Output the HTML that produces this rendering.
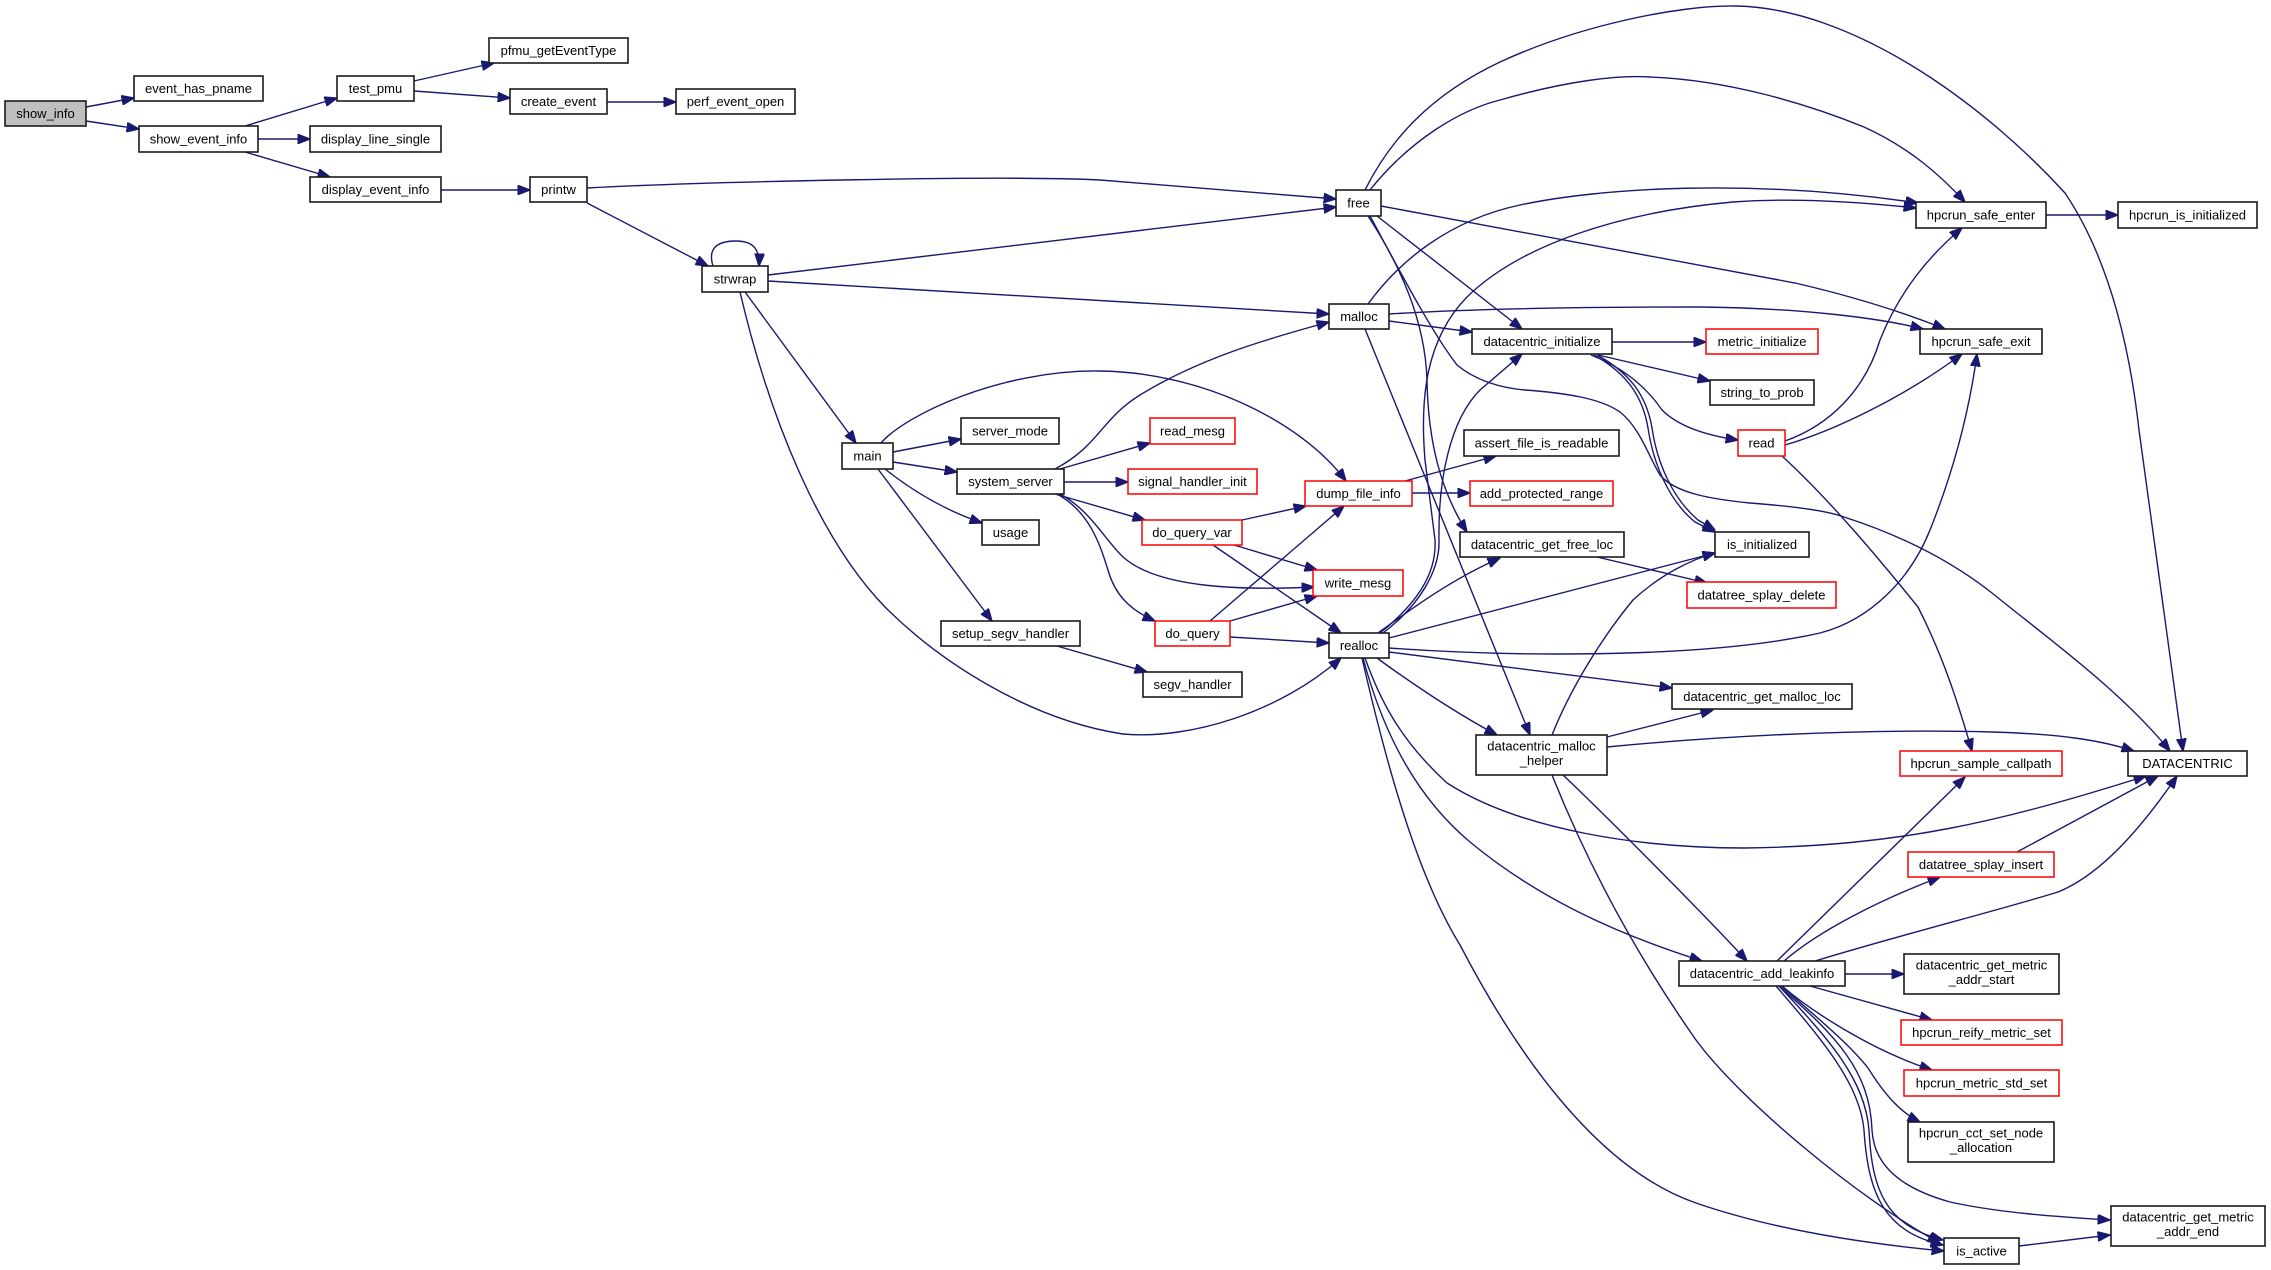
<!DOCTYPE html>
<html><head><meta charset="utf-8"><style>
html,body{margin:0;padding:0;background:#fff;}
svg{display:block;}
text{font-family:"Liberation Sans",Arial,sans-serif;font-size:13px;fill:#000;text-anchor:middle;}
.e{fill:none;stroke:#191970;stroke-width:1.4;marker-end:url(#a);}
.n{fill:#fff;stroke:#1a1a1a;stroke-width:1.6;}
.r{fill:#fff;stroke:#ff0000;stroke-width:1.5;}
</style></head><body>
<svg width="2271" height="1270" viewBox="0 0 2271 1270" xmlns="http://www.w3.org/2000/svg">
<defs><marker id="a" markerWidth="13" markerHeight="10" refX="12.5" refY="5" orient="auto" markerUnits="userSpaceOnUse"><path d="M0,0 L13,5 L0,10 z" fill="#191970" stroke="#191970" stroke-width="1"/></marker></defs>
<g>
<path class="e" d="M86,107 L134,98"/>
<path class="e" d="M86,121 L139,129"/>
<path class="e" d="M245,126 L337,98"/>
<path class="e" d="M258,139 L310,139"/>
<path class="e" d="M245,152 L330,177"/>
<path class="e" d="M414,81 L494,63"/>
<path class="e" d="M414,91 L510,98"/>
<path class="e" d="M607,102 L676,102"/>
<path class="e" d="M441,190 L530,190"/>
<path class="e" d="M587,188 C700,182 1000,175 1100,180 L1336,199"/>
<path class="e" d="M587,203 L708,266"/>
<path class="e" d="M713,266 C708,250 715,241 736,241 C752,241 760,248 759,266"/>
<path class="e" d="M768,275 L1336,207"/>
<path class="e" d="M768,281 L1329,314"/>
<path class="e" d="M745,292 L856,443"/>
<path class="e" d="M740,292 C770,420 820,540 885,607 C940,662 1030,720 1123,734 C1190,740 1280,712 1341,658"/>
<path class="e" d="M893,452 L961,439"/>
<path class="e" d="M893,462 L957,472"/>
<path class="e" d="M885,469 Q930,505 982,523"/>
<path class="e" d="M878,469 L992,621"/>
<path class="e" d="M881,443 C905,415 1000,370 1099,371 C1200,372 1300,420 1346,481"/>
<path class="e" d="M1055,469 C1100,445 1100,420 1140,395 C1200,358 1270,338 1329,322"/>
<path class="e" d="M1060,469 L1150,443"/>
<path class="e" d="M1064,482 L1128,482"/>
<path class="e" d="M1055,494 L1145,520"/>
<path class="e" d="M1060,494 C1090,510 1105,540 1123,557 C1160,590 1250,590 1314,587"/>
<path class="e" d="M1057,494 C1090,512 1100,545 1108,570 C1115,595 1130,610 1155,621"/>
<path class="e" d="M1242,520 L1306,506"/>
<path class="e" d="M1234,545 L1317,570"/>
<path class="e" d="M1213,545 L1341,633"/>
<path class="e" d="M1210,621 L1344,506"/>
<path class="e" d="M1230,621 L1317,596"/>
<path class="e" d="M1230,637 L1329,643"/>
<path class="e" d="M1057,646 L1147,672"/>
<path class="e" d="M1370,190 C1410,140 1460,110 1500,100 C1570,80 1620,75 1650,77 C1730,80 1810,105 1864,127 C1910,148 1940,175 1965,202"/>
<path class="e" d="M1365,190 C1390,140 1430,95 1500,62 C1580,25 1680,5 1736,6 C1850,8 1980,100 2065,193 C2110,260 2130,350 2139,430 L2183,751"/>
<path class="e" d="M1381,206 L1795,283 C1860,298 1910,315 1945,329"/>
<path class="e" d="M1377,216 L1522,329"/>
<path class="e" d="M1368,216 C1400,265 1425,320 1427,380 C1428,440 1440,490 1467,532"/>
<path class="e" d="M1370,216 C1395,262 1430,330 1457,365 C1475,380 1500,388 1525,390 C1565,393 1600,398 1620,412 C1640,428 1648,455 1660,475 C1675,493 1710,499 1750,503 C1790,506 1825,510 1844,517 C1900,535 1950,560 1992,593 C2050,640 2120,690 2170,751"/>
<path class="e" d="M1594,355 C1628,374 1643,398 1648,428 C1653,462 1668,500 1695,522 L1715,532"/>
<path class="e" d="M1597,355 C1632,374 1647,398 1652,428 C1657,462 1672,498 1698,520 L1715,530"/>
<path class="e" d="M1368,304 C1400,260 1450,220 1520,205 C1600,188 1750,178 1918,203"/>
<path class="e" d="M1380,633 C1415,605 1437,575 1435,540 L1425,460 C1420,400 1425,340 1467,297 C1520,245 1620,212 1733,202 C1800,197 1870,203 1916,208"/>
<path class="e" d="M1383,633 C1420,605 1440,570 1439,540 C1438,480 1450,420 1480,390 L1522,354"/>
<path class="e" d="M1378,633 C1410,610 1450,580 1500,558"/>
<path class="e" d="M1389,638 L1715,553"/>
<path class="e" d="M1389,648 C1500,656 1700,660 1820,633 C1870,620 1910,580 1930,530 C1950,480 1968,420 1977,354"/>
<path class="e" d="M1389,652 L1672,688"/>
<path class="e" d="M1377,658 C1400,675 1450,710 1497,735"/>
<path class="e" d="M1365,658 C1380,700 1400,740 1447,783 C1520,830 1640,848 1744,848 C1900,846 2000,822 2146,776"/>
<path class="e" d="M1363,658 C1385,740 1420,800 1470,842 C1540,900 1620,935 1702,961"/>
<path class="e" d="M1362,658 C1390,780 1420,880 1460,945 C1520,1060 1600,1170 1696,1203 C1780,1232 1880,1245 1944,1251"/>
<path class="e" d="M1365,329 L1530,735"/>
<path class="e" d="M1607,737 L1713,710"/>
<path class="e" d="M1607,747 C1700,738 1850,728 1992,732 C2060,734 2100,740 2134,751"/>
<path class="e" d="M1552,735 C1570,690 1600,640 1633,600 C1660,575 1690,560 1715,553"/>
<path class="e" d="M1563,775 C1600,810 1700,910 1747,961"/>
<path class="e" d="M1552,775 C1590,870 1640,960 1696,1040 C1740,1100 1860,1200 1940,1243"/>
<path class="e" d="M1612,342 L1706,342"/>
<path class="e" d="M1598,355 L1710,381"/>
<path class="e" d="M1591,355 C1620,366 1645,385 1662,410 C1680,428 1710,436 1738,440"/>
<path class="e" d="M1597,557 L1707,583"/>
<path class="e" d="M1405,481 L1496,456"/>
<path class="e" d="M1412,493 L1470,493"/>
<path class="e" d="M1389,321 L1472,332"/>
<path class="e" d="M1389,314 C1450,310 1550,307 1700,307 C1800,308 1880,318 1923,329"/>
<path class="e" d="M1785,441 C1830,425 1865,390 1880,340 C1900,290 1930,255 1962,228"/>
<path class="e" d="M1785,445 C1830,432 1900,400 1962,354"/>
<path class="e" d="M1782,456 C1830,500 1880,560 1918,607 C1945,660 1960,710 1972,751"/>
<path class="e" d="M2046,215 L2118,215"/>
<path class="e" d="M1777,961 L1965,777"/>
<path class="e" d="M1784,961 C1820,930 1880,900 1940,877"/>
<path class="e" d="M1815,961 C1900,935 2000,910 2058,892 C2100,875 2140,830 2177,776"/>
<path class="e" d="M2017,852 L2158,776"/>
<path class="e" d="M1845,974 L1904,974"/>
<path class="e" d="M1810,986 L1932,1020"/>
<path class="e" d="M1782,986 C1810,1010 1870,1050 1932,1070"/>
<path class="e" d="M1781,986 C1820,1020 1850,1045 1868,1068 C1885,1095 1900,1112 1920,1122"/>
<path class="e" d="M1780,987 C1835,1035 1870,1070 1872,1130 C1874,1165 1900,1188 1950,1202 C2000,1213 2060,1217 2110,1220"/>
<path class="e" d="M1779,986 C1830,1040 1865,1080 1869,1130 C1872,1190 1885,1225 1943,1240"/>
<path class="e" d="M1776,986 C1825,1043 1860,1085 1864,1130 C1868,1195 1885,1232 1943,1245"/>
<path class="e" d="M2019,1246 L2110,1235"/>
</g>
<g>
<rect x="5" y="101" width="81" height="25" fill="#bfbfbf" stroke="#1a1a1a" stroke-width="1.6"/><text x="45.5" y="118">show_info</text>
<rect class="n" x="134" y="76" width="129" height="25"/><text x="198.5" y="93">event_has_pname</text>
<rect class="n" x="139" y="126" width="119" height="26"/><text x="198.5" y="143.5">show_event_info</text>
<rect class="n" x="337" y="76" width="77" height="25"/><text x="375.5" y="93">test_pmu</text>
<rect class="n" x="489" y="38" width="139" height="25"/><text x="558.5" y="55">pfmu_getEventType</text>
<rect class="n" x="510" y="89" width="97" height="25"/><text x="558.5" y="106">create_event</text>
<rect class="n" x="676" y="89" width="119" height="25"/><text x="735.5" y="106">perf_event_open</text>
<rect class="n" x="310" y="126" width="131" height="26"/><text x="375.5" y="143.5">display_line_single</text>
<rect class="n" x="310" y="177" width="131" height="25"/><text x="375.5" y="194">display_event_info</text>
<rect class="n" x="530" y="177" width="57" height="25"/><text x="558.5" y="194">printw</text>
<rect class="n" x="702" y="266" width="66" height="26"/><text x="735" y="283.5">strwrap</text>
<rect class="n" x="1336" y="190" width="45" height="26"/><text x="1358.5" y="207.5">free</text>
<rect class="n" x="1329" y="304" width="60" height="25"/><text x="1359" y="321">malloc</text>
<rect class="n" x="1472" y="329" width="140" height="25"/><text x="1542" y="346">datacentric_initialize</text>
<rect class="r" x="1706" y="329" width="112" height="25"/><text x="1762" y="346">metric_initialize</text>
<rect class="n" x="1710" y="380" width="104" height="25"/><text x="1762" y="397">string_to_prob</text>
<rect class="n" x="1916" y="202" width="130" height="26"/><text x="1981" y="219.5">hpcrun_safe_enter</text>
<rect class="n" x="2118" y="202" width="139" height="26"/><text x="2187.5" y="219.5">hpcrun_is_initialized</text>
<rect class="n" x="1920" y="329" width="122" height="25"/><text x="1981" y="346">hpcrun_safe_exit</text>
<rect class="r" x="1738" y="430" width="47" height="26"/><text x="1761.5" y="447.5">read</text>
<rect class="n" x="1464" y="430" width="155" height="26"/><text x="1541.5" y="447.5">assert_file_is_readable</text>
<rect class="r" x="1470" y="481" width="143" height="25"/><text x="1541.5" y="498">add_protected_range</text>
<rect class="r" x="1305" y="481" width="107" height="25"/><text x="1358.5" y="498">dump_file_info</text>
<rect class="n" x="1460" y="532" width="164" height="25"/><text x="1542" y="549">datacentric_get_free_loc</text>
<rect class="n" x="1715" y="532" width="94" height="25"/><text x="1762" y="549">is_initialized</text>
<rect class="r" x="1687" y="582" width="149" height="26"/><text x="1761.5" y="599.5">datatree_splay_delete</text>
<rect class="n" x="842" y="443" width="51" height="26"/><text x="867.5" y="460.5">main</text>
<rect class="n" x="961" y="418" width="98" height="26"/><text x="1010" y="435.5">server_mode</text>
<rect class="r" x="1150" y="418" width="85" height="26"/><text x="1192.5" y="435.5">read_mesg</text>
<rect class="n" x="957" y="469" width="107" height="25"/><text x="1010.5" y="486">system_server</text>
<rect class="r" x="1128" y="469" width="129" height="25"/><text x="1192.5" y="486">signal_handler_init</text>
<rect class="n" x="982" y="520" width="57" height="25"/><text x="1010.5" y="537">usage</text>
<rect class="r" x="1142" y="520" width="100" height="25"/><text x="1192" y="537">do_query_var</text>
<rect class="r" x="1313" y="570" width="90" height="26"/><text x="1358" y="587.5">write_mesg</text>
<rect class="n" x="941" y="621" width="139" height="25"/><text x="1010.5" y="638">setup_segv_handler</text>
<rect class="r" x="1155" y="621" width="75" height="25"/><text x="1192.5" y="638">do_query</text>
<rect class="n" x="1329" y="633" width="60" height="25"/><text x="1359" y="650">realloc</text>
<rect class="n" x="1143" y="672" width="99" height="25"/><text x="1192.5" y="689">segv_handler</text>
<rect class="n" x="1672" y="684" width="180" height="25"/><text x="1762" y="701">datacentric_get_malloc_loc</text>
<rect class="n" x="1476" y="735" width="131" height="40"/><text x="1541.5" y="750.5">datacentric_malloc</text><text x="1541.5" y="765">_helper</text>
<rect class="r" x="1900" y="751" width="162" height="25"/><text x="1981" y="768">hpcrun_sample_callpath</text>
<rect class="n" x="2128" y="751" width="119" height="25"/><text x="2187.5" y="768">DATACENTRIC</text>
<rect class="r" x="1908" y="852" width="146" height="25"/><text x="1981" y="869">datatree_splay_insert</text>
<rect class="n" x="1679" y="961" width="166" height="25"/><text x="1762" y="978">datacentric_add_leakinfo</text>
<rect class="n" x="1904" y="954" width="155" height="40"/><text x="1981.5" y="969.5">datacentric_get_metric</text><text x="1981.5" y="984">_addr_start</text>
<rect class="r" x="1901" y="1020" width="161" height="25"/><text x="1981.5" y="1037">hpcrun_reify_metric_set</text>
<rect class="r" x="1904" y="1070" width="155" height="26"/><text x="1981.5" y="1087.5">hpcrun_metric_std_set</text>
<rect class="n" x="1908" y="1122" width="146" height="40"/><text x="1981" y="1137.5">hpcrun_cct_set_node</text><text x="1981" y="1152">_allocation</text>
<rect class="n" x="2111" y="1206" width="154" height="40"/><text x="2188" y="1221.5">datacentric_get_metric</text><text x="2188" y="1236">_addr_end</text>
<rect class="n" x="1944" y="1238" width="75" height="26"/><text x="1981.5" y="1255.5">is_active</text>
</g>
</svg>
</body></html>
